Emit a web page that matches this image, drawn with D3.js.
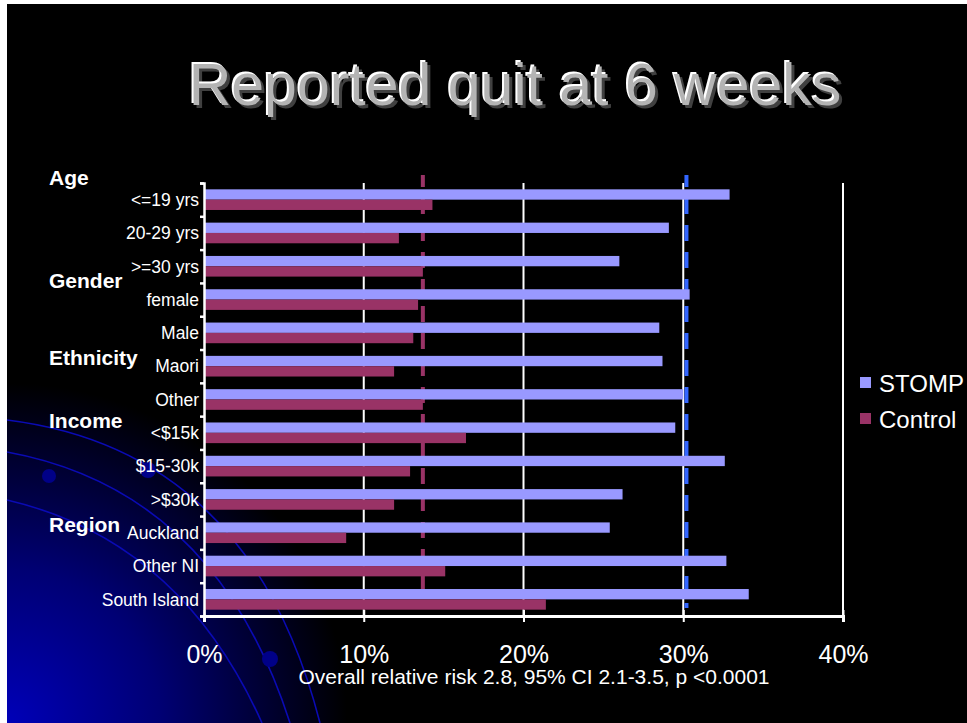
<!DOCTYPE html>
<html>
<head>
<meta charset="utf-8">
<script src="https://cdn.jsdelivr.net/npm/d3@7"></script>
<style>
  body { margin: 0; background: #fff; }
  svg { display: block; font-family: "Liberation Sans", Arial, sans-serif; }
</style>
</head>
<body>
<div class="chart"></div>
<script>
// data
var categories = ['<=19 yrs', '20-29 yrs', '>=30 yrs', 'female', 'Male', 'Maori', 'Other',
  '<$15k', '$15-30k', '>$30k', 'Auckland', 'Other NI', 'South Island'];
var stomp   = [32.9, 29.1, 26.0, 30.4, 28.5, 28.7, 30.0, 29.5, 32.6, 26.2, 25.4, 32.7, 34.1];
var control = [14.3, 12.2, 13.7, 13.4, 13.1, 11.9, 13.7, 16.4, 12.9, 11.9, 8.9, 15.1, 21.4];
var series = ['STOMP', 'Control'];
var groups = ['Age', 'Gender', 'Ethnicity', 'Income', 'Region'];
var overall = {STOMP: 30.2, Control: 13.7};
var xTicks = [0, 10, 20, 30, 40];
var title = 'Reported quit at 6 weeks';
var note = 'Overall relative risk 2.8, 95% CI 2.1-3.5, p <0.0001';

var W = 967, H = 723;
var colors = {STOMP: '#9999ff', Control: '#993366'};
var lineColors = {STOMP: '#3366ff', Control: '#993366'};

var svg = d3.select('.chart').append('svg')
  .attr('width', W).attr('height', H);

// slide background
var defs = svg.append('defs');
var grad = defs.append('radialGradient').attr('id', 'bg')
  .attr('gradientUnits', 'userSpaceOnUse')
  .attr('cx', 7).attr('cy', 723).attr('r', 340);
grad.append('stop').attr('offset', '0').attr('stop-color', '#0000b8');
grad.append('stop').attr('offset', '0.45').attr('stop-color', '#000074');
grad.append('stop').attr('offset', '1').attr('stop-color', '#000000');

svg.append('rect').attr('width', W).attr('height', H).attr('fill', '#fff');
svg.append('rect').attr('x', 7).attr('y', 4).attr('width', W - 7).attr('height', H - 4).attr('fill', '#000');
svg.append('rect').attr('x', 7).attr('y', 4).attr('width', W - 7).attr('height', H - 4).attr('fill', 'url(#bg)');

// decorative arcs
var deco = svg.append('g').attr('fill', 'none').attr('stroke', '#0a0ab4').attr('stroke-width', 1.6);
deco.append('path').attr('d', 'M7,420 Q250,450 320,723');
deco.append('path').attr('d', 'M7,452 Q215,490 290,723');
deco.append('path').attr('d', 'M7,500 Q180,540 262,723');
svg.append('circle').attr('cx', 49).attr('cy', 476).attr('r', 7).attr('fill', '#000088');
svg.append('circle').attr('cx', 148).attr('cy', 470).attr('r', 8).attr('fill', '#00008a');
svg.append('circle').attr('cx', 270).attr('cy', 659).attr('r', 8).attr('fill', '#000088');

// title with bevel look
var tg = svg.append('g').attr('font-size', 59).attr('text-anchor', 'middle');
tg.append('text').attr('x', 518).attr('y', 108).attr('fill', '#404040').text(title);
tg.append('text').attr('x', 513).attr('y', 103).attr('fill', '#ffffff').text(title);
tg.append('text').attr('x', 515).attr('y', 105).attr('fill', '#b4b4b4').text(title);

// scales
var plotTop = 183, plotBottom = 616, plotLeft = 204, plotRight = 843;
var x = d3.scaleLinear().domain([0, 40]).range([plotLeft, plotRight]);
var y = d3.scaleBand().domain(categories).range([plotTop, plotBottom]).paddingInner(0.38).paddingOuter(0.19);
var ySub = d3.scaleBand().domain(series).range([0, y.bandwidth()]);
var yIdx = d3.scaleLinear().domain([0, categories.length]).range([plotTop, plotBottom]);

// gridlines
svg.append('g').selectAll('line').data(xTicks.slice(1)).join('line')
  .attr('x1', d => x(d)).attr('x2', d => x(d))
  .attr('y1', plotTop).attr('y2', plotBottom)
  .attr('stroke', '#fff').attr('stroke-width', 2);

// overall dashed reference lines
svg.append('g').selectAll('line').data(series).join('line')
  .attr('x1', d => x(overall[d])).attr('x2', d => x(overall[d]))
  .attr('y1', 175).attr('y2', 608)
  .attr('stroke', d => lineColors[d]).attr('stroke-width', 4)
  .attr('stroke-dasharray', '16,11').attr('stroke-dashoffset', 4);

// bars
var rows = categories.map((c, i) => ({cat: c, STOMP: stomp[i], Control: control[i]}));
var rowG = svg.append('g').selectAll('g').data(rows).join('g')
  .attr('transform', d => 'translate(0,' + y(d.cat) + ')');
rowG.selectAll('rect').data(d => series.map(s => ({key: s, value: d[s]}))).join('rect')
  .attr('x', x(0))
  .attr('y', d => ySub(d.key))
  .attr('width', d => x(d.value) - x(0))
  .attr('height', ySub.bandwidth())
  .attr('fill', d => colors[d.key]);

// category labels
svg.append('g').selectAll('text').data(categories).join('text')
  .attr('x', 199).attr('y', d => y(d) + y.bandwidth() / 2)
  .attr('dy', '0.36em').attr('text-anchor', 'end')
  .attr('font-size', 17.5).attr('fill', '#fff')
  .text(d => d);

// y axis
svg.append('g').attr('transform', 'translate(' + plotLeft + ',0)')
  .call(d3.axisLeft(yIdx).tickValues(d3.range(categories.length + 1)).tickSize(4).tickFormat(''))
  .call(g => g.selectAll('line, path').attr('stroke', '#fff').attr('stroke-width', 2.5));

// x axis
svg.append('g').attr('transform', 'translate(0,' + plotBottom + ')')
  .call(d3.axisBottom(x).tickValues(xTicks).tickSize(6).tickFormat(d => d + '%'))
  .call(g => g.select('.domain').attr('stroke', '#fff').attr('stroke-width', 3))
  .call(g => g.selectAll('.tick line').attr('stroke', '#fff').attr('stroke-width', 2).attr('y1', -6))
  .call(g => g.selectAll('.tick text').attr('fill', '#fff').attr('font-size', 25)
    .attr('font-family', '"Liberation Sans", Arial, sans-serif').attr('y', 29).attr('dy', '0.71em'));

// group labels
var groupY = [185, 288, 365, 428, 532];
svg.append('g').selectAll('text').data(groups).join('text')
  .attr('x', 49).attr('y', (d, i) => groupY[i])
  .attr('font-size', 21).attr('font-weight', 'bold').attr('fill', '#fff')
  .text(d => d);

// footnote
svg.append('text').attr('x', 534).attr('y', 684).attr('text-anchor', 'middle')
  .attr('font-size', 21).attr('fill', '#fff').text(note);

// legend
var lg = svg.append('g').selectAll('g').data(series).join('g')
  .attr('transform', (d, i) => 'translate(860,' + (377 + i * 36) + ')');
lg.append('rect').attr('width', 11).attr('height', 11).attr('fill', d => colors[d]);
lg.append('text').attr('x', 19).attr('y', 6).attr('dy', '0.36em')
  .attr('font-size', 24).attr('fill', '#fff').text(d => d);
</script>
</body>
</html>
